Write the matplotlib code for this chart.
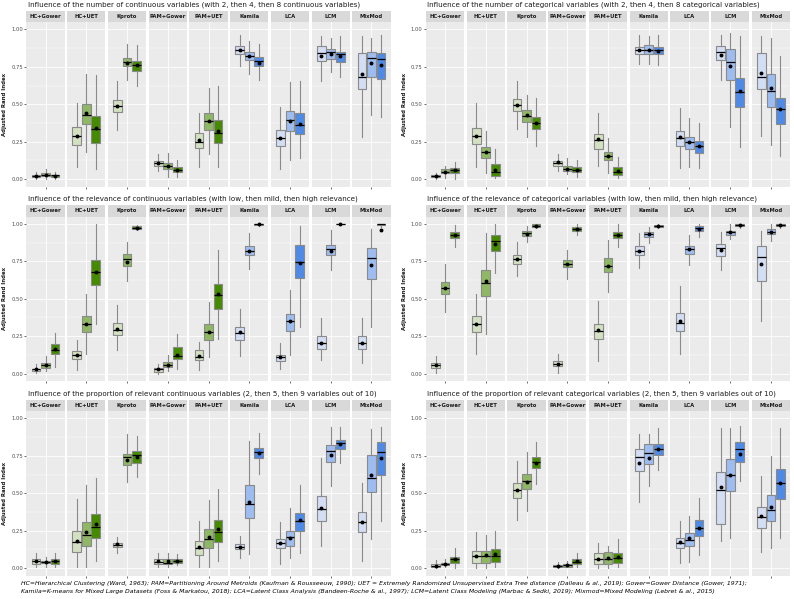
import numpy as np
import matplotlib.pyplot as plt

methods = ["HC+Gower", "HC+UET", "Kproto", "PAM+Gower", "PAM+UET",
           "Kamila", "LCA", "LCM", "MixMod"]

titles = [
    "Influence of the number of continuous variables (with 2, then 4, then 8 continuous variables)",
    "Influence of the number of categorical variables (with 2, then 4, then 8 categorical variables)",
    "Influence of the relevance of continuous variables (with low, then mild, then high relevance)",
    "Influence of the relevance of categorical variables (with low, then mild, then high relevance)",
    "Influence of the proportion of relevant continuous variables (2, then 5, then 9 variables out of 10)",
    "Influence of the proportion of relevant categorical variables (2, then 5, then 9 variables out of 10)",
]

note1 = ("HC=Hierarchical Clustering (Ward, 1963); PAM=Partitioning Around Metroids (Kaufman & Rousseeuw, 1990); "
         "UET = Extremely Randomized Unsupervised Extra Tree distance (Dalleau & al., 2019); Gower=Gower Distance (Gower, 1971);")
note2 = ("Kamila=K-means for Mixed Large Datasets (Foss & Markatou, 2018); LCA=Latent Class Analysis (Bandeen-Roche & al., 1997); "
         "LCM=Latent Class Modeling (Marbac & Sedki, 2019); Mixmod=Mixed Modeling (Lebret & al., 2015)")

# ARI summaries, 3 settings per method (9 methods x 3 = 27 values)
# panel 1 : number of continuous variables
p1_lo  = [0, 0, 0,  .08, .18, .065,  .33, .66, .62,  .055, .015, .015,  .08, .17, .08,  .755, .705, .665,  .07, .13, .14,  .655, .715, .68,  .28, .43, .415]
p1_q1  = [.015, .02, .015,  .23, .37, .24,  .45, .755, .725,  .09, .07, .045,  .21, .33, .24,  .835, .795, .755,  .22, .32, .30,  .79, .80, .785,  .60, .68, .67]
p1_med = [.02, .03, .025,  .285, .43, .335,  .49, .785, .765,  .105, .09, .06,  .25, .385, .31,  .865, .825, .79,  .275, .395, .36,  .845, .85, .835,  .685, .81, .805]
p1_q3  = [.03, .04, .03,  .345, .505, .42,  .53, .81, .79,  .12, .11, .08,  .305, .44, .395,  .89, .85, .815,  .325, .455, .44,  .89, .87, .85,  .845, .85, .845]
p1_hi  = [.05, .07, .05,  .51, .70, .695,  .655, .90, .895,  .165, .175, .125,  .44, .61, .62,  .96, .92, .905,  .48, .65, .655,  .955, .945, .955,  .955, .94, .965]
p1_avg = [.02, .03, .02,  .29, .44, .34,  .49, .775, .765,  .11, .09, .06,  .26, .39, .32,  .865, .82, .775,  .275, .39, .37,  .825, .835, .825,  .70, .775, .765]

# panel 2 : number of categorical variables
p2_lo  = [0, .01, 0,  .08, .04, .01,  .335, .28, .22,  .055, .035, .015,  .09, .04, .01,  .77, .77, .76,  .075, .08, .075,  .66, .35, .215,  .29, .23, .155]
p2_q1  = [.015, .042, .042,  .233, .142, .022,  .453, .382, .333,  .089, .056, .044,  .204, .127, .027,  .833, .838, .833,  .222, .204, .176,  .793, .66, .482,  .604, .482, .367]
p2_med = [.02, .05, .06,  .287, .178, .05,  .495, .42, .375,  .11, .07, .06,  .26, .155, .05,  .865, .865, .86,  .275, .25, .22,  .85, .78, .58,  .685, .59, .465]
p2_q3  = [.028, .064, .076,  .342, .216, .098,  .538, .46, .416,  .122, .089, .078,  .304, .182, .078,  .882, .893, .882,  .322, .282, .256,  .887, .867, .678,  .844, .70, .544]
p2_hi  = [.04, .09, .115,  .51, .32, .20,  .655, .56, .54,  .17, .14, .125,  .44, .275, .15,  .965, .955, .96,  .475, .405, .375,  .96, .978, .955,  .955, .945, .82]
p2_avg = [.02, .05, .06,  .29, .18, .06,  .495, .425, .375,  .115, .07, .06,  .265, .155, .053,  .865, .865, .855,  .278, .25, .22,  .827, .756, .589,  .709, .609, .471]

# panel 3 : relevance of continuous variables
p3_lo  = [.004, .016, .044,  .022, .133, .333,  .156, .616, .958,  0, .016, .029,  .022, .111, .229,  .118, .70, .984,  .029, .127, .311,  .089, .689, .996,  .071, .311, .98]
p3_q1  = [.016, .04, .133,  .096, .278, .589,  .26, .718, .964,  .011, .044, .10,  .089, .227, .433,  .227, .793, .991,  .084, .284, .64,  .167, .793, .997,  .167, .629, .991]
p3_med = [.027, .06, .16,  .122, .329, .682,  .289, .767, .973,  .027, .06, .118,  .111, .278, .527,  .271, .822, .998,  .111, .349, .744,  .207, .833, .999,  .207, .771, .998]
p3_q3  = [.033, .071, .196,  .151, .382, .76,  .34, .796, .984,  .038, .078, .178,  .156, .333, .60,  .311, .851, 1.0,  .127, .40, .86,  .251, .86, 1.0,  .251, .84, 1.0]
p3_hi  = [.067, .118, .271,  .222, .533, 1.0,  .46, .882, .996,  .067, .122, .262,  .211, .478, .827,  .429, .94, 1.0,  .204, .56, .989,  .371, .96, 1.0,  .371, .967, 1.0]
p3_avg = [.027, .06, .167,  .122, .329, .682,  .30, .749, .973,  .027, .06, .122,  .118, .278, .529,  .278, .822, .998,  .111, .351, .74,  .207, .822, 1.0,  .207, .729, .96]

# panel 4 : relevance of categorical variables
p4_lo  = [.004, .411, .844,  .129, .267, .671,  .649, .878, .973,  .004, .633, .927,  .082, .544, .849,  .704, .871, .971,  .133, .729, .911,  .689, .90, .973,  .351, .889, .973]
p4_q1  = [.038, .533, .904,  .278, .518, .822,  .733, .918, .978,  .049, .711, .951,  .229, .682, .904,  .793, .911, .978,  .282, .80, .951,  .789, .927, .984,  .622, .933, .984]
p4_med = [.06, .571, .927,  .333, .604, .889,  .767, .938, .989,  .067, .733, .967,  .284, .722, .927,  .822, .933, .989,  .34, .833, .971,  .838, .944, .993,  .778, .949, .993]
p4_q3  = [.071, .611, .944,  .382, .693, .927,  .793, .956, .998,  .082, .756, .978,  .333, .773, .944,  .856, .944, .996,  .404, .856, .984,  .867, .956, .998,  .856, .967, .998]
p4_hi  = [.118, .733, .993,  .529, .94, 1.0,  .882, .989, 1.0,  .129, .827, 1.0,  .482, .893, 1.0,  .94, .982, 1.0,  .582, .929, 1.0,  .944, 1.0, 1.0,  .956, 1.0, 1.0]
p4_avg = [.06, .571, .927,  .333, .616, .867,  .767, .933, .989,  .062, .733, .967,  .293, .722, .927,  .822, .933, .985,  .351, .833, .967,  .827, .944, .993,  .733, .944, .993]

# panel 5 : proportion of relevant continuous variables
p5_lo  = [.004, .004, .009,  .004, .009, .049,  .098, .572, .606,  .004, .004, .02,  .004, .009, .049,  .065, .091, .626,  .027, .065, .102,  .149, .548, .704,  .047, .192, .314]
p5_q1  = [.027, .031, .027,  .109, .149, .198,  .138, .688, .704,  .027, .027, .036,  .087, .131, .176,  .125, .332, .733,  .131, .149, .249,  .314, .706, .793,  .243, .51, .621]
p5_med = [.047, .04, .047,  .171, .22, .272,  .154, .744, .755,  .042, .031, .049,  .131, .194, .243,  .138, .425, .777,  .169, .205, .314,  .392, .784, .837,  .31, .599, .773]
p5_q3  = [.06, .049, .06,  .249, .31, .359,  .169, .762, .782,  .058, .06, .06,  .18, .261, .321,  .16, .555, .804,  .194, .249, .37,  .481, .822, .855,  .372, .759, .844]
p5_hi  = [.098, .076, .102,  .459, .555, .60,  .209, .893, .884,  .102, .102, .094,  .314, .454, .528,  .216, .851, .906,  .305, .399, .555,  .737, .944, .944,  .566, .927, .944]
p5_avg = [.049, .04, .049,  .18, .24, .292,  .158, .722, .744,  .049, .049, .049,  .138, .209, .261,  .138, .443, .766,  .169, .20, .321,  .399, .755, .826,  .31, .621, .733]

# panel 6 : proportion of relevant categorical variables
p6_lo  = [0, .004, 0,  0, 0, .009,  .321, .381, .561,  0, .004, .004,  0, 0, .004,  .439, .55, .655,  .036, .042, .087,  .18, .203, .581,  .109, .131, .203]
p6_q1  = [.007, .018, .031,  .036, .036, .042,  .465, .528, .666,  .004, .009, .027,  .027, .027, .031,  .648, .695, .759,  .131, .147, .216,  .292, .517, .706,  .265, .314, .459]
p6_med = [.013, .027, .058,  .08, .08, .08,  .521, .581, .71,  .013, .018, .042,  .06, .06, .065,  .744, .766, .793,  .169, .187, .269,  .521, .621, .793,  .339, .388, .57]
p6_q3  = [.024, .036, .076,  .114, .116, .127,  .57, .626, .744,  .022, .027, .058,  .098, .109, .102,  .793, .826, .829,  .203, .232, .321,  .639, .728, .84,  .41, .488, .659]
p6_hi  = [.053, .06, .136,  .243, .22, .247,  .715, .777, .84,  .042, .049, .102,  .165, .149, .192,  .895, .893, .933,  .316, .35, .47,  .933, .933, .951,  .617, .748, .933]
p6_avg = [.013, .027, .06,  .082, .087, .094,  .521, .572, .704,  .013, .018, .047,  .06, .065, .071,  .70, .733, .793,  .176, .198, .269,  .543, .621, .762,  .347, .405, .57]

panels = [
    (p1_lo, p1_q1, p1_med, p1_q3, p1_hi, p1_avg),
    (p2_lo, p2_q1, p2_med, p2_q3, p2_hi, p2_avg),
    (p3_lo, p3_q1, p3_med, p3_q3, p3_hi, p3_avg),
    (p4_lo, p4_q1, p4_med, p4_q3, p4_hi, p4_avg),
    (p5_lo, p5_q1, p5_med, p5_q3, p5_hi, p5_avg),
    (p6_lo, p6_q1, p6_med, p6_q3, p6_hi, p6_avg),
]

greens = ["#d3e0c2", "#8fb865", "#458b00"]
blues = ["#d3ddf3", "#9dbcf0", "#4f8be6"]

W, H = 794, 599
fig = plt.figure(figsize=(W / 100, H / 100), dpi=100)
plt.rcParams['font.family'] = 'DejaVu Sans'

def px_axes(x, y, w, h):
    # pixel box (top-left origin) -> figure axes
    return fig.add_axes([x / W, 1 - (y + h) / H, w / W, h / H])

col_x = [26.5, 426]
row_y = [22, 216.5, 411]
pw, ph = 364, 164.5
gap = 2.7
fw = (pw - 8 * gap) / 9
strip_h = 11.5

for k, (lo, q1, med, q3, hi, avg) in enumerate(panels):
    r, c = k // 2, k % 2
    x0, y0 = col_x[c], row_y[r]
    fig.text((x0 + 1) / W, 1 - (y0 - 17.5) / H, titles[k], fontsize=5.15,
             color="#1a1a1a", ha="left", va="center")
    fig.text((x0 - 22) / W, 1 - (y0 + ph / 2) / H, "Adjusted Rand Index", rotation=90,
             fontsize=3.9, fontweight="bold", ha="center", va="center", color="#1a1a1a")
    for m in range(9):
        fx = x0 + m * (fw + gap)
        ax = px_axes(fx, y0, fw, ph)
        ax.set_facecolor("#ebebeb")
        for s in ax.spines.values():
            s.set_visible(False)
        stats = []
        for j in range(3):
            i = m * 3 + j
            stats.append(dict(whislo=lo[i], q1=q1[i], med=med[i], q3=q3[i],
                              whishi=hi[i], mean=avg[i], fliers=[]))
        bp = ax.bxp(stats, positions=[0.7, 1.0, 1.3], widths=0.28, patch_artist=True,
                    showmeans=True, showcaps=False, showfliers=False,
                    boxprops=dict(edgecolor="#8a8a8a", linewidth=0.8),
                    whiskerprops=dict(color="#8a8a8a", linewidth=0.8),
                    medianprops=dict(color="black", linewidth=0.9),
                    meanprops=dict(marker="o", markerfacecolor="black",
                                   markeredgecolor="black", markersize=1.8))
        pal = greens if m < 5 else blues
        for patch, col in zip(bp["boxes"], pal):
            patch.set_facecolor(col)
        ax.set_xlim(0.4, 1.6)
        ax.set_ylim(-0.05, 1.05)
        ax.set_yticks([0, 0.25, 0.5, 0.75, 1.0])
        ax.set_yticks([0.125, 0.375, 0.625, 0.875], minor=True)
        ax.set_xticks([1.0])
        ax.set_xticklabels([])
        ax.grid(True, which="major", color="white", linewidth=0.6)
        ax.grid(True, which="minor", axis="y", color="white", linewidth=0.3)
        ax.set_axisbelow(True)
        ax.tick_params(axis="x", length=1.6, width=0.5, color="#333333")
        ax.tick_params(axis="y", which="minor", length=0)
        if m == 0:
            ax.set_yticklabels(["0.00", "0.25", "0.50", "0.75", "1.00"])
            ax.tick_params(axis="y", length=1.6, width=0.5, color="#333333",
                           labelsize=3.8, labelcolor="#4d4d4d", pad=1)
        else:
            ax.set_yticklabels([])
            ax.tick_params(axis="y", length=0)
        sx = px_axes(fx, y0 - strip_h, fw, strip_h)
        sx.set_facecolor("#d9d9d9")
        sx.set_xticks([])
        sx.set_yticks([])
        for s in sx.spines.values():
            s.set_visible(False)
        sx.text(0.5, 0.5, methods[m], fontsize=3.8, fontweight="bold",
                color="#1a1a1a", ha="center", va="center", transform=sx.transAxes)

fig.text(21 / W, 1 - 583 / H, note1, fontsize=4.4, style="italic", color="black", va="center")
fig.text(21 / W, 1 - 592 / H, note2, fontsize=4.4, style="italic", color="black", va="center")

fig.savefig("out.png", dpi=100)
